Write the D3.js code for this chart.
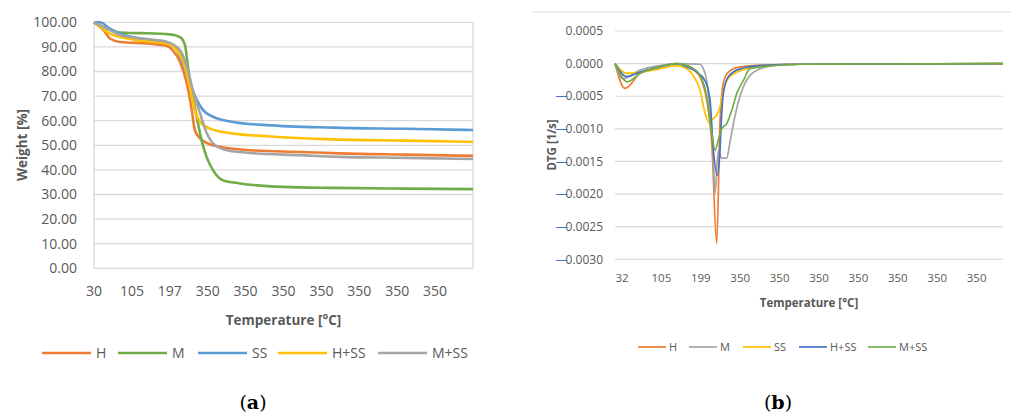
<!DOCTYPE html>
<html>
<head>
<meta charset="utf-8">
<script src="https://cdn.jsdelivr.net/npm/d3@7"></script>
<style>
  body { margin: 0; background: #fff; }
  text { font-family: "Open Sans", sans-serif; fill: #595959; }
</style>
</head>
<body>
<div id="chart"></div>
<script>
// Series names and colours (chart a / chart b)
let names = ["H", "M", "SS", "H+SS", "M+SS"];
let colorsA = ["#ED7D31", "#70AD47", "#5B9BD5", "#FFC000", "#A5A5A5"];
let colorsB = ["#ED7D31", "#A5A5A5", "#FFC000", "#4472C4", "#70AD47"];

// Category tick labels
let tgaLabels = ["30", "105", "197", "350", "350", "350", "350", "350", "350", "350"];
let dtgLabels = ["32", "105", "199", "350", "350", "350", "350", "350", "350", "350"];

// Y tick values
let tgaTicks = [0, 10, 20, 30, 40, 50, 60, 70, 80, 90, 100];
let dtgTicks = [0.0005, 0, -0.0005, -0.001, -0.0015, -0.002, -0.0025, -0.003];

// TGA weight curves [category position, weight %]
let tgaH = [[0,100],[0.25,96.8],[0.42,93.4],[0.69,92],[1.48,91.3],[1.93,90.4],[2.08,88.6],[2.27,83.9],[2.45,75.1],[2.58,64.3],[2.66,56.2],[2.8,52.8],[2.97,51],[3.32,49.4],[4.12,48],[5.44,47.3],[6.49,46.7],[8.2,46.2],[10,45.7]];
let tgaM = [[0,100],[0.42,97],[0.69,95.8],[1.2,95.6],[2,95.1],[2.27,94],[2.4,90.7],[2.48,81.9],[2.58,72.4],[2.71,61.6],[2.84,52],[2.97,45.3],[3.14,39.9],[3.4,35.8],[3.85,34.5],[4.99,33.1],[6.31,32.7],[8.2,32.4],[10,32.2]];
let tgaSS = [[0,100],[0.16,100],[0.42,97.4],[0.69,95.4],[1.21,93.4],[1.93,91.8],[2.19,88.6],[2.35,83.2],[2.53,75.1],[2.72,68.3],[2.88,64.3],[3.14,61.6],[3.67,59.5],[4.56,58.2],[6.31,57.2],[8.2,56.7],[10,56.2]];
let tgaHSS = [[0,100],[0.42,95.4],[1.03,93],[1.93,91.3],[2.19,88.6],[2.4,81.9],[2.53,73.7],[2.66,64.3],[2.8,59.5],[3.06,56.8],[3.67,54.8],[4.56,53.7],[6.31,52.4],[8.2,51.9],[10,51.4]];
let tgaMSS = [[0,100],[0.42,96.8],[0.69,94.8],[1.48,93],[1.93,92],[2.27,88.6],[2.45,81.9],[2.61,72.4],[2.8,62.9],[2.98,54.8],[3.14,50.8],[3.51,48],[4.12,46.9],[5.44,46],[6.49,45.3],[8.2,44.9],[10,44.4]];

// DTG curves [category position, 1/s]
let dtgH = [[-0.178,0],[0.076,-0.00038],[0.457,-0.00015],[0.964,-0.00005],[1.388,0],[1.548,-0.00001],[1.802,-0.00008],[2.023,-0.00026],[2.15,-0.00056],[2.277,-0.0012],[2.404,-0.00276],[2.487,-0.0009],[2.571,-0.0003],[2.698,-0.00013],[2.995,-0.00005],[3.756,-0.00002],[4.518,-0.00001],[9.67,0]];
let dtgM = [[-0.178,0],[0.025,-0.00023],[0.457,-0.0001],[0.964,-0.00003],[1.388,0],[1.98,-0.00001],[2.05,-0.00006],[2.15,-0.00026],[2.234,-0.0007],[2.302,-0.0012],[2.36,-0.00199],[2.444,-0.00133],[2.53,-0.00145],[2.657,-0.00145],[2.741,-0.0012],[2.868,-0.0008],[2.995,-0.0005],[3.122,-0.0003],[3.249,-0.00018],[3.503,-0.00008],[3.832,-0.00003],[4.518,-0.00001],[9.67,0]];
let dtgSS = [[-0.178,0],[0.119,-0.00015],[0.457,-0.00013],[0.964,-0.00008],[1.388,-0.00003],[1.642,-0.00008],[1.802,-0.00018],[1.98,-0.00041],[2.107,-0.00076],[2.216,-0.00091],[2.317,-0.00084],[2.404,-0.00079],[2.487,-0.00066],[2.571,-0.00041],[2.741,-0.0002],[3.165,-0.00008],[3.673,-0.00003],[4.518,-0.00001],[9.67,0]];
let dtgHSS = [[-0.178,0],[0.119,-0.0002],[0.457,-0.00013],[0.964,-0.00005],[1.388,0],[1.642,-0.00005],[1.896,-0.00013],[2.107,-0.00026],[2.234,-0.00056],[2.302,-0.0012],[2.419,-0.00171],[2.487,-0.00133],[2.513,-0.00097],[2.571,-0.00046],[2.698,-0.0002],[2.995,-0.00008],[3.503,-0.00003],[4.518,-0.00001],[9.67,0]];
let dtgMSS = [[-0.178,0],[0.135,-0.00028],[0.457,-0.00015],[0.964,-0.00005],[1.388,0],[1.726,-0.00005],[1.98,-0.00018],[2.15,-0.0005],[2.277,-0.00107],[2.36,-0.00133],[2.444,-0.00117],[2.53,-0.001],[2.657,-0.00092],[2.784,-0.00072],[2.911,-0.00046],[3.079,-0.00026],[3.249,-0.00008],[3.503,-0.00005],[4.518,-0.00001],[9.67,0]];

let tgaSeries = [tgaH, tgaM, tgaSS, tgaHSS, tgaMSS];
let dtgSeries = [dtgH, dtgM, dtgSS, dtgHSS, dtgMSS];

let width = 1011, height = 415;
let grid = "#d9d9d9";

let svg = d3.select("#chart").append("svg")
            .attr("width", width)
            .attr("height", height);

// ---------- (a) TGA ----------
let xA = d3.scaleLinear().domain([0, 10]).range([94, 473]);
let yA = d3.scaleLinear().domain([0, 100]).range([268.3, 22.3]);

let gA = svg.append("g");

gA.selectAll("line.grid")
  .data(tgaTicks)
  .enter()
  .append("line")
  .attr("x1", xA(0)).attr("x2", xA(10))
  .attr("y1", d => yA(d)).attr("y2", d => yA(d))
  .style("stroke", grid).style("stroke-width", 1.3);

// plot area side borders
gA.selectAll("line.side")
  .data([0, 10])
  .enter()
  .append("line")
  .attr("x1", d => xA(d)).attr("x2", d => xA(d))
  .attr("y1", yA(100)).attr("y2", yA(0))
  .style("stroke", grid).style("stroke-width", 1.3);

gA.selectAll("text.ytick")
  .data(tgaTicks)
  .enter()
  .append("text")
  .attr("x", 77)
  .attr("y", d => yA(d))
  .attr("dy", "0.35em")
  .attr("text-anchor", "end")
  .style("font-size", "14px")
  .text(d => d.toFixed(2));

gA.selectAll("text.xtick")
  .data(tgaLabels)
  .enter()
  .append("text")
  .attr("x", (d, i) => xA(i))
  .attr("y", 296)
  .attr("text-anchor", "middle")
  .style("font-size", "14px")
  .text(d => d);

gA.append("text")
  .attr("x", 283.5).attr("y", 325)
  .attr("text-anchor", "middle")
  .style("font-size", "13.5px").style("font-weight", "bold")
  .text("Temperature [°C]");

gA.append("text")
  .attr("transform", "translate(27,145) rotate(-90)")
  .attr("text-anchor", "middle")
  .style("font-size", "13.5px").style("font-weight", "bold")
  .text("Weight [%]");

let lineA = d3.line()
              .x(d => xA(d[0]))
              .y(d => yA(d[1]))
              .curve(d3.curveMonotoneX);

gA.selectAll("path.series")
  .data(tgaSeries)
  .enter()
  .append("path")
  .attr("d", lineA)
  .style("fill", "none")
  .style("stroke", (d, i) => colorsA[i])
  .style("stroke-width", 2.6)
  .style("stroke-linejoin", "round");

// legend (a)
let legA = [42, 118, 198, 278, 378];
names.forEach(function(n, i) {
  gA.append("line")
    .attr("x1", legA[i]).attr("x2", legA[i] + 49)
    .attr("y1", 353).attr("y2", 353)
    .style("stroke", colorsA[i]).style("stroke-width", 2.6);
  gA.append("text")
    .attr("x", legA[i] + 54).attr("y", 353)
    .attr("dy", "0.35em")
    .style("font-size", "14px")
    .text(n);
});

// ---------- (b) DTG ----------
let xB = d3.scaleLinear().domain([-0.178, 9.67]).range([615, 1003]);
let yB = d3.scaleLinear().domain([-0.003, 0.0005]).range([259.3, 31]);

let gB = svg.append("g");

gB.append("line")
  .attr("x1", 532).attr("x2", 1011)
  .attr("y1", 12).attr("y2", 12)
  .style("stroke", grid).style("stroke-width", 1);

gB.selectAll("line.grid")
  .data(dtgTicks)
  .enter()
  .append("line")
  .attr("x1", xB(-0.178)).attr("x2", xB(9.67))
  .attr("y1", d => yB(d)).attr("y2", d => yB(d))
  .style("stroke", grid).style("stroke-width", 1.2);

let ytB = gB.selectAll("text.ytick")
  .data(dtgTicks)
  .enter()
  .append("text")
  .attr("x", 603)
  .attr("y", d => yB(d))
  .attr("dy", "0.35em")
  .attr("text-anchor", "end")
  .style("font-size", "12px");

ytB.filter(d => d < 0)
   .append("tspan")
   .style("fill", "#4472C4")
   .text("—");
ytB.append("tspan")
   .attr("dx", d => d < 0 ? -2 : 0)
   .text(d => Math.abs(d).toFixed(4));

gB.selectAll("text.xtick")
  .data(dtgLabels)
  .enter()
  .append("text")
  .attr("x", (d, i) => xB(i))
  .attr("y", 282)
  .attr("text-anchor", "middle")
  .style("font-size", "11.5px")
  .text(d => d);

gB.append("text")
  .attr("x", 809).attr("y", 307)
  .attr("text-anchor", "middle")
  .style("font-size", "11.5px").style("font-weight", "bold")
  .text("Temperature [°C]");

gB.append("text")
  .attr("transform", "translate(556,145) rotate(-90)")
  .attr("text-anchor", "middle")
  .style("font-size", "11.5px").style("font-weight", "bold")
  .text("DTG [1/s]");

let lineB = d3.line()
              .x(d => xB(d[0]))
              .y(d => yB(d[1]))
              .curve(d3.curveMonotoneX);

gB.selectAll("path.series")
  .data(dtgSeries)
  .enter()
  .append("path")
  .attr("d", lineB)
  .style("fill", "none")
  .style("stroke", (d, i) => colorsB[i])
  .style("stroke-width", 1.7)
  .style("stroke-linejoin", "round");

// legend (b)
let legB = [638, 689, 743, 799, 868];
names.forEach(function(n, i) {
  gB.append("line")
    .attr("x1", legB[i]).attr("x2", legB[i] + 28)
    .attr("y1", 347).attr("y2", 347)
    .style("stroke", colorsB[i]).style("stroke-width", 1.7);
  gB.append("text")
    .attr("x", legB[i] + 31).attr("y", 347)
    .attr("dy", "0.35em")
    .style("font-size", "11px")
    .text(n);
});

// captions
[["a", 253], ["b", 778]].forEach(function(c) {
  let t = svg.append("text")
             .attr("x", c[1]).attr("y", 409)
             .attr("text-anchor", "middle")
             .style("font-family", "'DejaVu Serif', serif")
             .style("font-size", "19px")
             .style("fill", "#000");
  t.append("tspan").text("(");
  t.append("tspan").style("font-weight", "bold").text(c[0]);
  t.append("tspan").text(")");
});
</script>
</body>
</html>
